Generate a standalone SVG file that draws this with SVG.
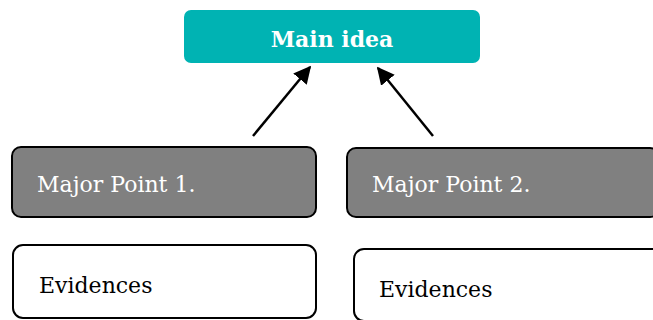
<svg xmlns="http://www.w3.org/2000/svg" width="653" height="320" viewBox="0 0 653 320">
<style>
.t{font-family:"DejaVu Serif","Liberation Serif",serif;font-size:22px}
.w{fill:#ffffff}
.b{fill:#000000}
.box{stroke:#000;stroke-width:2}
</style>
<defs>
<marker id="ah" viewBox="0 0 10 10" refX="9" refY="5" markerWidth="7" markerHeight="7" orient="auto" markerUnits="strokeWidth">
<path d="M0,0 L10,5 L0,10 z" fill="#000"/>
</marker>
</defs>
<rect width="653" height="320" fill="#fff"/>
<g id="main">
<rect x="184" y="10" width="296" height="53" rx="7" fill="#00B3B3"/>
<text class="t w" x="332" y="47" text-anchor="middle" font-weight="bold" font-size="21">Main idea</text>
</g>
<g id="mp1">
<rect class="box" x="12" y="147" width="304" height="70" rx="9" fill="#808080"/>
<text class="t w" x="37" y="192">Major Point 1.</text>
</g>
<g id="mp2">
<rect class="box" x="347" y="148" width="312" height="69" rx="9" fill="#808080"/>
<text class="t w" x="372" y="192">Major Point 2.</text>
</g>
<g id="ev1">
<rect class="box" x="13" y="245" width="303" height="73" rx="10" fill="#fff"/>
<text class="t b" x="39" y="293">Evidences</text>
</g>
<g id="ev2">
<rect class="box" x="354" y="249" width="310" height="72" rx="10" fill="#fff"/>
<text class="t b" x="379" y="297">Evidences</text>
</g>
<g id="connectors" stroke="#000" stroke-width="2.5" fill="none">
<line x1="253" y1="136" x2="310" y2="67" marker-end="url(#ah)"/>
<line x1="433" y1="136" x2="378" y2="68" marker-end="url(#ah)"/>
</g>
</svg>
